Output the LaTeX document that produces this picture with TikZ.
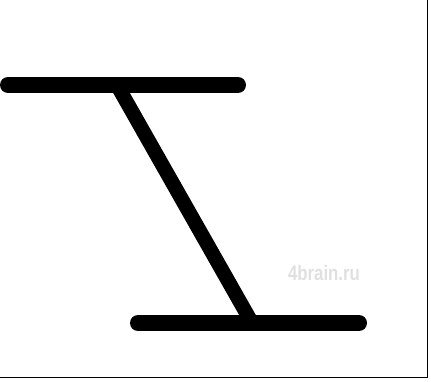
\documentclass[tikz,border=0pt]{standalone}
\usepackage{fontspec}
\setmainfont{Liberation Sans}
\begin{document}
\begin{tikzpicture}[x=1pt,y=-1pt,
  bar/.style={line width=16pt,line cap=round},
  slant/.style={line width=14.5pt},
  frameline/.style={line width=1.2pt}]
\useasboundingbox (0,0) rectangle (431,382);
\coordinate (tl) at (8,85);
\coordinate (tr) at (238,85);
\coordinate (bl) at (138,323);
\coordinate (br) at (359,323);
\coordinate (dtop) at (117,85);
\coordinate (dbot) at (252,323);
\node[text=black!12,font=\bfseries\fontsize{21}{21}\selectfont,xscale=0.8,inner sep=0] (wm) at (324,273) {4brain.ru};
\draw[slant] (dtop) -- (dbot);
\draw[bar] (tl) -- (tr);
\draw[bar] (bl) -- (br);
\coordinate (f0) at (0,377.5);
\coordinate (f1) at (427.5,377.5);
\coordinate (f2) at (427.5,0);
\draw[frameline] (f0) -- (f1) -- (f2);
\end{tikzpicture}
\end{document}
